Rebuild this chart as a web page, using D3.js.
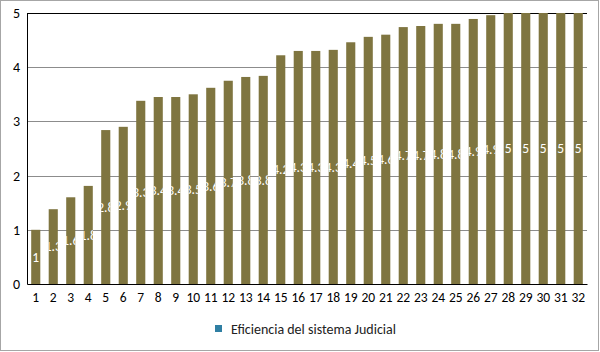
<!DOCTYPE html>
<html lang="es">
<head>
<meta charset="UTF-8">
<title>Eficiencia del sistema Judicial</title>
<script src="https://cdn.jsdelivr.net/npm/d3@7"></script>
<style>
body{ margin:0; background:#fff; }
text{ font-family: Calibri, Carlito, "Liberation Sans", "DejaVu Sans", sans-serif; }
.grid line{ stroke:#8c8c8c; stroke-width:1; }
</style>
</head>
<body>
<div id="grafico"></div>
<script>
// datos
var categorias = d3.range(1, 33).map(String);
var valores = [1, 1.38, 1.6, 1.81, 2.84, 2.9, 3.38, 3.45, 3.45, 3.5,
               3.62, 3.75, 3.82, 3.84, 4.22, 4.3, 4.3, 4.32, 4.46, 4.56,
               4.6, 4.74, 4.76, 4.8, 4.8, 4.89, 4.96, 5, 5, 5, 5, 5];
var etiquetas = ["1", "1.3", "1.6", "1.8", "2.8", "2.9", "3.3", "3.4", "3.4", "3.5",
                 "3.6", "3.7", "3.8", "3.8", "4.2", "4.3", "4.3", "4.3", "4.4", "4.5",
                 "4.6", "4.7", "4.7", "4.8", "4.8", "4.9", "4.9", "5", "5", "5", "5", "5"];
var ticksY = [0, 1, 2, 3, 4, 5];
var serie = "Eficiencia del sistema Judicial";

var w = 600, h = 352;
var margen = {izq: 27, der: 13, arr: 13, aba: 68};
var colorBarra = "#7f7540";

var svg = d3.select("#grafico").append("svg")
  .attr("width", w).attr("height", h);

svg.append("rect")
  .attr("x", 0.5).attr("y", 0.5)
  .attr("width", w - 2).attr("height", 350)
  .attr("fill", "#fff").attr("stroke", "#a6a6a6");

var x = d3.scaleBand()
  .domain(categorias)
  .range([margen.izq, w - margen.der])
  .paddingInner(0.48).paddingOuter(0.24);

var y = d3.scaleLinear()
  .domain([0, 5])
  .range([h - margen.aba - 0, margen.arr]);

// lineas de cuadricula
svg.append("g").attr("class", "grid")
  .selectAll("line").data(ticksY.slice(1, -1)).enter()
  .append("line")
  .attr("x1", margen.izq).attr("x2", w - margen.der)
  .attr("y1", function(d){ return Math.round(y(d)) + 0.5; })
  .attr("y2", function(d){ return Math.round(y(d)) + 0.5; });

svg.append("line")
  .attr("x1", margen.izq).attr("x2", w - margen.der)
  .attr("y1", Math.round(y(5)) + 0.5).attr("y2", Math.round(y(5)) + 0.5)
  .attr("stroke", "#000");

// barras
svg.append("g").selectAll("rect").data(valores).enter()
  .append("rect")
  .attr("x", function(d, i){ return x(categorias[i]); })
  .attr("width", x.bandwidth())
  .attr("y", function(d){ return y(d); })
  .attr("height", function(d){ return y(0) - y(d); })
  .attr("fill", colorBarra);

// recortes: la etiqueta solo se ve dentro de su barra
var defs = svg.append("defs");
defs.selectAll("clipPath").data(valores).enter()
  .append("clipPath")
  .attr("id", function(d, i){ return "clip" + i; })
  .append("rect")
  .attr("x", function(d, i){ return x(categorias[i]); })
  .attr("width", x.bandwidth())
  .attr("y", function(d){ return y(d); })
  .attr("height", function(d){ return y(0) - y(d); });

// etiquetas de datos (blancas, centradas en la barra)
svg.append("g").selectAll("text").data(valores).enter()
  .append("text")
  .attr("clip-path", function(d, i){ return "url(#clip" + i + ")"; })
  .attr("x", function(d, i){ return x(categorias[i]) + x.bandwidth() / 2; })
  .attr("y", function(d){ return (y(d) + y(0)) / 2; })
  .attr("dy", "0.35em")
  .attr("text-anchor", "middle")
  .attr("font-size", 13.5)
  .attr("fill", "#fff")
  .text(function(d, i){ return etiquetas[i]; });

// ejes
var ejeY = svg.append("g")
  .attr("transform", "translate(" + margen.izq + ",0)")
  .call(d3.axisLeft(y).tickValues(ticksY).tickFormat(d3.format("d")).tickSize(0).tickPadding(7));
ejeY.select(".domain").attr("stroke", "#000");
ejeY.selectAll("text").attr("font-size", 14).attr("fill", "#000");

var ejeX = svg.append("g")
  .attr("transform", "translate(0," + y(0) + ")")
  .call(d3.axisBottom(x).tickSize(0).tickPadding(8));
ejeX.select(".domain").attr("stroke", "#000");
ejeX.selectAll("text").attr("font-size", 13.5).attr("fill", "#000");

// leyenda
var leyenda = svg.append("g").attr("transform", "translate(215,325)");
leyenda.append("rect").attr("width", 7).attr("height", 7).attr("fill", "#2f7fa3");
leyenda.append("text").attr("x", 16).attr("y", 4).attr("dy", "0.35em")
  .attr("font-size", 14).attr("fill", "#222").text(serie);
</script>
</body>
</html>
